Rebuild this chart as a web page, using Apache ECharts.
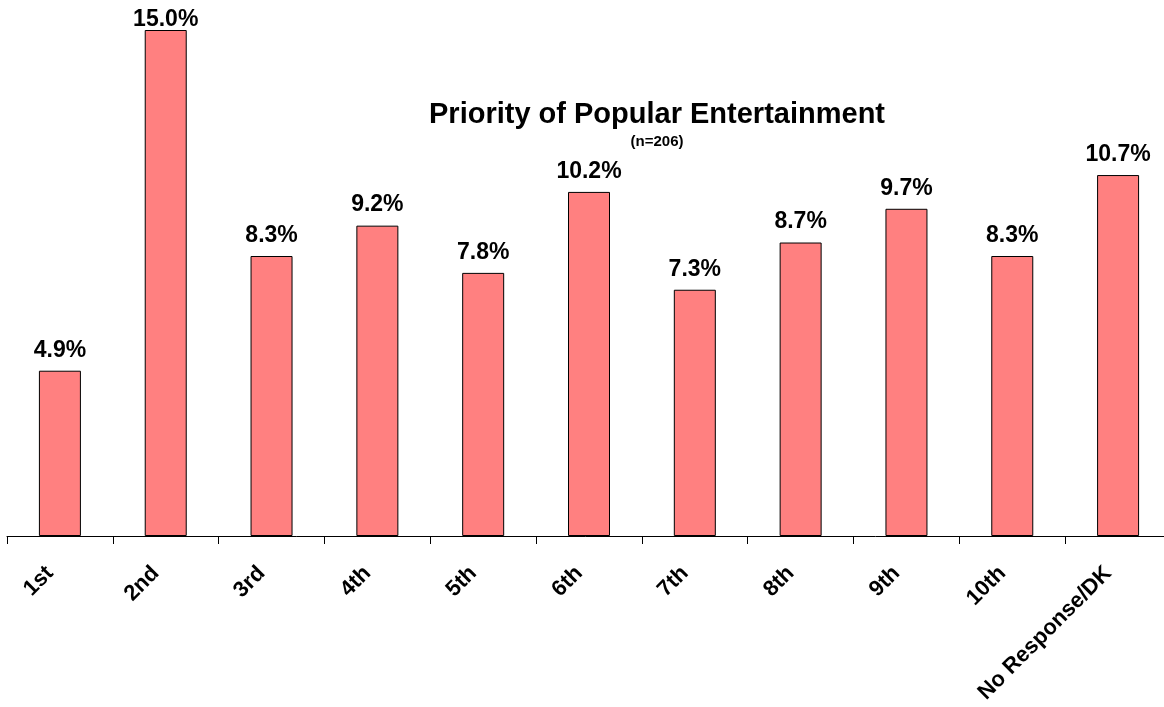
<!DOCTYPE html>
<html>
<head>
<meta charset="utf-8">
<script src="https://cdn.jsdelivr.net/npm/echarts@6/dist/echarts.min.js"></script>
<style>
  html, body { margin: 0; padding: 0; background: #fff; }
  #chart { width: 1164px; height: 707px; }
</style>
</head>
<body>
<div id="chart"></div>
<script>
// Ranking categories and share of respondents (%)
const categories = ['1st', '2nd', '3rd', '4th', '5th', '6th', '7th', '8th', '9th', '10th', 'No Response/DK'];
const shares = [4.9, 15.0, 8.3, 9.2, 7.8, 10.2, 7.3, 8.7, 9.7, 8.3, 10.7];
const titleText = 'Priority of Popular Entertainment';
const subtitleText = '(n=206)';

const yMax = 15;
// the tallest bar reaches the top of the plot, so its label sits tighter to the bar
const barData = shares.map(v => v >= yMax
  ? { value: v, label: { distance: -1 } }
  : v);

const chart = echarts.init(document.getElementById('chart'));
chart.setOption({
  animation: false,
  backgroundColor: '#ffffff',
  textStyle: { fontFamily: 'Liberation Sans, Arial, sans-serif' },
  title: {
    text: titleText,
    subtext: subtitleText,
    left: 652,
    top: 95,
    textAlign: 'center',
    itemGap: 5,
    textStyle: { fontSize: 29, fontWeight: 'bold', color: '#000' },
    subtextStyle: { fontSize: 15, fontWeight: 'bold', color: '#000' }
  },
  // the plot runs a little past the right edge of the canvas
  grid: { left: 7, width: 1164, top: 30, bottom: 171, containLabel: false, outerBoundsMode: 'none' },
  xAxis: {
    type: 'category',
    data: categories,
    axisLine: { lineStyle: { color: '#000', width: 1 } },
    axisTick: { show: true, length: 8, lineStyle: { color: '#000' } },
    axisLabel: {
      rotate: 45,
      fontSize: 22,
      fontWeight: 'bold',
      color: '#000',
      margin: 24,
      padding: [0, 14, 0, 0],
      interval: 0
    }
  },
  yAxis: {
    type: 'value',
    min: 0,
    max: yMax,
    show: false,
    splitLine: { show: false }
  },
  series: [{
    type: 'bar',
    data: barData,
    barWidth: 42,
    itemStyle: { color: '#ff8080', borderColor: '#000', borderWidth: 1 },
    label: {
      show: true,
      position: 'top',
      distance: 9,
      formatter: p => p.value.toFixed(1) + '%',
      fontSize: 23,
      fontWeight: 'bold',
      color: '#000'
    }
  }]
});
</script>
</body>
</html>
